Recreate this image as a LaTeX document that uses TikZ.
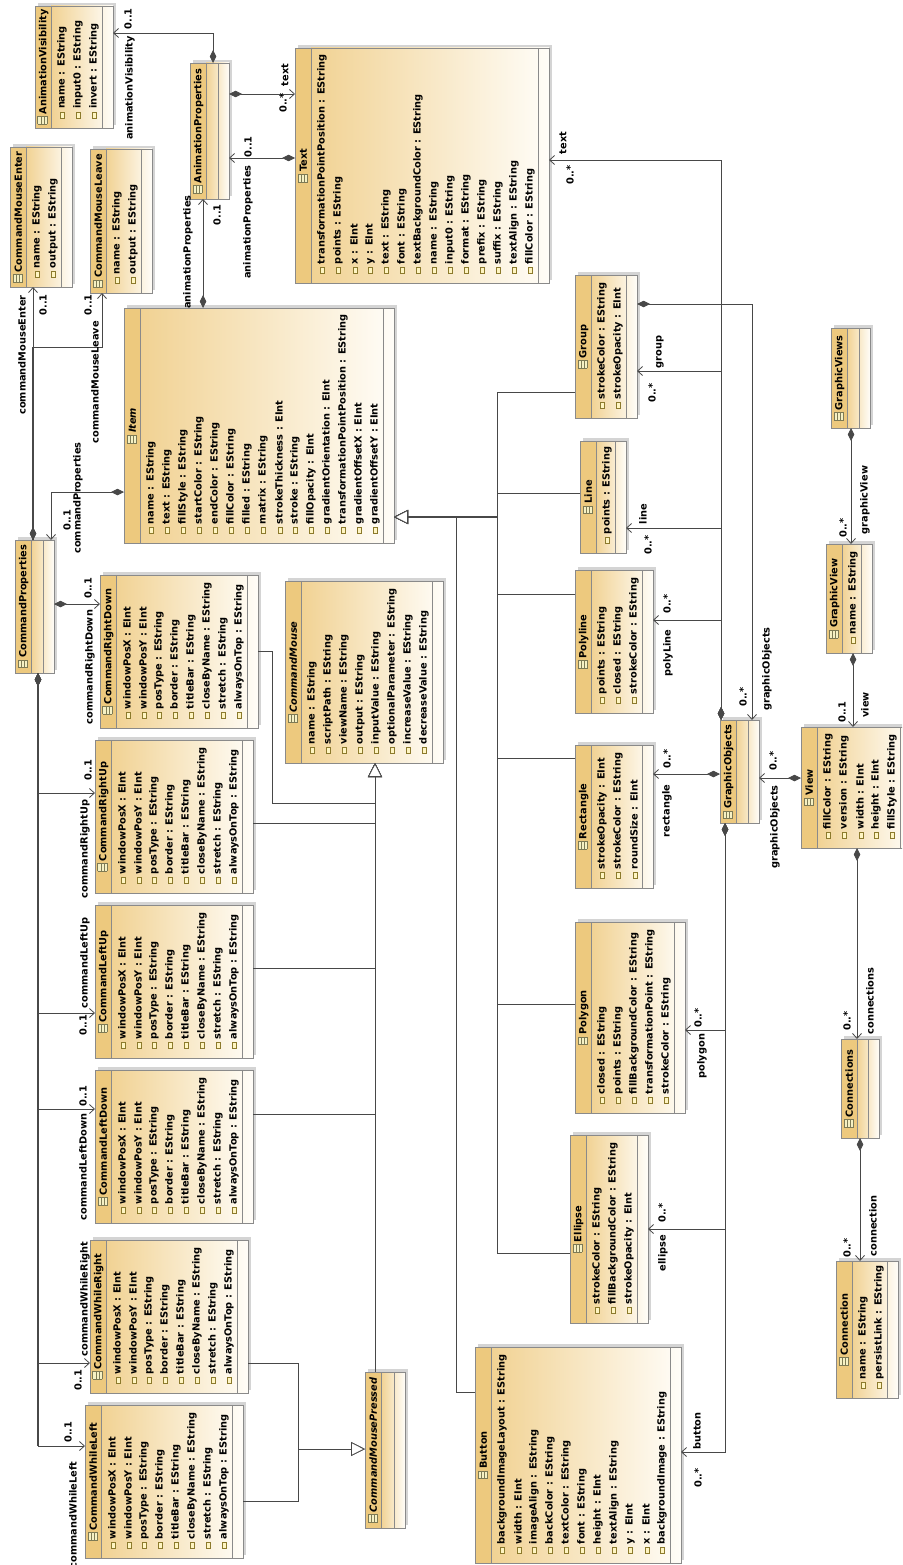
\documentclass[tikz,border=0pt]{standalone}
\usepackage{fontspec}
\setmainfont{DejaVu Sans}
\usepackage{xcolor}
\usetikzlibrary{arrows.meta}
\definecolor{headfill}{HTML}{EDC97E}
\definecolor{bodyleft}{HTML}{F1D293}
\definecolor{bodyright}{HTML}{FFFDF8}
\definecolor{boxgray}{HTML}{8A8A8A}
\definecolor{boxshadow}{HTML}{D4D4D4}
\definecolor{linkgray}{HTML}{484848}
\definecolor{attrline}{HTML}{8C7A2C}
\definecolor{attrfill}{HTML}{FFF5C2}
\definecolor{iconline}{HTML}{7D7A55}
\definecolor{iconfill}{HTML}{F6F1C4}

\newcommand{\umlfont}{\fontsize{9.8}{11}\selectfont\bfseries}
\newcommand{\attricon}{\raisebox{0.6pt}{\setlength{\fboxsep}{0pt}\setlength{\fboxrule}{0.6pt}%
  \fcolorbox{attrline}{attrfill}{\rule{0pt}{3.6pt}\hspace{5.6pt}}}}
\newcommand{\classicon}{\raisebox{-0.5pt}{\setlength{\fboxsep}{0pt}\setlength{\fboxrule}{0.6pt}%
  \fcolorbox{iconline}{iconfill}{\vbox{\color{iconline}\hrule width 7pt height 0pt\vskip 2.6pt
  \hrule width 7pt height 0.5pt\vskip 2.6pt\hrule width 7pt height 0.5pt\vskip 2.6pt}}}}

\tikzset{
  classbox/.style={draw=boxgray,line width=0.9pt,inner sep=0pt,outer sep=0pt,anchor=north west},
  boxline/.style={draw=boxgray,line width=0.9pt},
  classname/.style={rotate=90,inner sep=0pt,font=\umlfont},
  attrrow/.style={rotate=90,anchor=west,inner sep=0pt,font=\umlfont},
  lbl/.style={rotate=90,inner sep=0pt,font=\umlfont},
  assoc/.style={draw=linkgray,line width=0.8pt,
    {Diamond[length=13pt,width=6.5pt]}-{Straight Barb[length=5pt,width=9pt]}},
  gen/.style={draw=linkgray,line width=0.8pt,-{Triangle[length=14pt,width=14pt,fill=white]}},
  trunk/.style={draw=linkgray,line width=1.6pt},
}

% #1 node, #2 left, #3 top, #4 width, #5 height, #6 class name, #7 attributes
\newcommand{\eclass}[7]{%
  \fill[boxshadow] (#2+3,#3-3) rectangle (#2+#4+3,#3+#5-3);
  \fill[headfill] (#2,#3) rectangle (#2+16,#3+#5);
  \shade[left color=bodyleft,right color=bodyright] (#2+16,#3) rectangle (#2+#4,#3+#5);
  \node[classbox,minimum width=#4pt,minimum height=#5pt] (#1) at (#2,#3) {};
  \draw[boxline] ([xshift=16pt]#1.north west) -- ([xshift=16pt]#1.south west)
                 ([xshift=-11pt]#1.north east) -- ([xshift=-11pt]#1.south east);
  \node[classname] (#1-name) at ([xshift=8pt]#1.west) {\classicon\hspace{2pt}#6};
  \if\relax\detokenize{#7}\relax\else
    \edef\attrlist{#7}%
    \foreach \attrname [count=\k] in \attrlist
      \node[attrrow] (#1-a\k) at ({#2+11+16*\k},{#3+#5-9}) {\attricon\hspace{3pt}\attrname};
  \fi}

\newcommand{\cmdattrs}{windowPosX : EInt, windowPosY : EInt, posType : EString, border : EString,
  titleBar : EString, closeByName : EString, stretch : EString, alwaysOnTop : EString}

\begin{document}
\begin{tikzpicture}[x=1pt,y=-1pt]
\useasboundingbox (0,0) rectangle (902,1565);
\clip (0,0) rectangle (902,1565);
\fill[white] (0,0) rectangle (902,1565);

% classes
\eclass{animvis}{35}{6}{78}{122}{AnimationVisibility}{name : EString, input0 : EString, invert : EString}
\eclass{animprops}{190}{63}{39}{136}{AnimationProperties}{}
\eclass{cmenter}{10}{147}{62}{140}{CommandMouseEnter}{name : EString, output : EString}
\eclass{cmleave}{90}{149}{62}{144}{CommandMouseLeave}{name : EString, output : EString}
\eclass{txt}{295}{48}{254}{235}{Text}{transformationPointPosition : EString, points : EString,
  x : EInt, y : EInt, text : EString, font : EString, textBackgroundColor : EString, name : EString,
  input0 : EString, format : EString, prefix : EString, suffix : EString, textAlign : EString,
  fillColor : EString}
\eclass{item}{124}{308}{270}{235}{\textit{Item}}{name : EString, text : EString, fillStyle : EString,
  startColor : EString, endColor : EString, fillColor : EString, filled : EString, matrix : EString,
  strokeThickness : EInt, stroke : EString, fillOpacity : EInt, gradientOrientation : EInt,
  transformationPointPosition : EString, gradientOffsetX : EInt, gradientOffsetY : EInt}
\eclass{cprops}{15}{540}{39}{133}{CommandProperties}{}
\eclass{crd}{100}{575}{158}{153}{CommandRightDown}{\cmdattrs}
\eclass{cmouse}{285}{581}{158}{182}{\textit{CommandMouse}}{name : EString, scriptPath : EString,
  viewName : EString, output : EString, inputValue : EString, optionalParameter : EString,
  increaseValue : EString, decreaseValue : EString}
\eclass{cru}{95}{740}{158}{153}{CommandRightUp}{\cmdattrs}
\eclass{clu}{95}{905}{158}{153}{CommandLeftUp}{\cmdattrs}
\eclass{cld}{95}{1070}{158}{153}{CommandLeftDown}{\cmdattrs}
\eclass{cwr}{90}{1240}{158}{153}{CommandWhileRight}{\cmdattrs}
\eclass{cwl}{85}{1405}{158}{153}{CommandWhileLeft}{\cmdattrs}
\eclass{cmpressed}{365}{1372}{40}{156}{\textit{CommandMousePressed}}{}
\eclass{button}{475}{1347}{206}{216}{Button}{backgroundImageLayout : EString, width : EInt,
  imageAlign : EString, backColor : EString, textColor : EString, font : EString, height : EInt,
  textAlign : EString, y : EInt, x : EInt, backgroundImage : EString}
\eclass{ellipse}{570}{1135}{78}{188}{Ellipse}{strokeColor : EString, fillBackgroundColor : EString,
  strokeOpacity : EInt}
\eclass{polygon}{575}{922}{110}{191}{Polygon}{closed : EString, points : EString,
  fillBackgroundColor : EString, transformationPoint : EString, strokeColor : EString}
\eclass{rect}{575}{745}{78}{143}{Rectangle}{strokeOpacity : EInt, strokeColor : EString, roundSize : EInt}
\eclass{polyline}{575}{570}{78}{143}{Polyline}{points : EString, closed : EString, strokeColor : EString}
\eclass{lin}{580}{441}{46}{112}{Line}{points : EString}
\eclass{group}{575}{275}{62}{143}{Group}{strokeColor : EString, strokeOpacity : EInt}
\eclass{gviews}{831}{328}{39}{100}{GraphicViews}{}
\eclass{gview}{826}{544}{46}{109}{GraphicView}{name : EString}
\eclass{view}{801}{727}{110}{121}{View}{fillColor : EString, version : EString, width : EInt,
  height : EInt, fillStyle : EString}
\eclass{gobjects}{720}{720}{39}{103}{GraphicObjects}{}
\eclass{conns}{841}{1039}{38}{99}{Connections}{}
\eclass{conn}{836}{1261}{62}{137}{Connection}{name : EString, persistLink : EString}

% bend points
\coordinate (cptop) at ([xshift=18pt]cprops.north west);
\coordinate (cpbot) at ([xshift=23pt]cprops.south west);
\coordinate (leavebend) at (102,347);
\coordinate (genhead) at (item.east |- 0,517);
\coordinate (genjoin) at (497,517);
\coordinate (genjoinb) at (456,517);
\coordinate (cmhead) at ([xshift=90pt]cmouse.south west);
\coordinate (rdbend) at (272,803);
\coordinate (pressjoin) at (298,1449);
\coordinate (gotop) at ([xshift=1pt]gobjects.north west);
\coordinate (gobot) at ([xshift=5pt]gobjects.south west);

% animation
\draw[assoc] ([xshift=23pt]animprops.north west) |- (animvis.east |- 0,33);
\draw[assoc] (animprops.east |- 0,94) -- (txt.west |- 0,94);
\draw[assoc] (txt.west |- 0,158) -- (animprops.east |- 0,158);
\draw[assoc] ([xshift=79pt]item.north west) -- ([xshift=13pt]animprops.south west);

% command properties
\draw[trunk] (cptop) -- (cptop |- leavebend);
\draw[assoc] (cptop) -- ([xshift=23pt]cmenter.south west);
\draw[assoc] (cptop) |- (leavebend) -- (leavebend |- cmleave.south);
\draw[assoc] (item.west |- 0,492) -| ([xshift=36pt]cprops.north west);
\draw[assoc] (cprops.east |- 0,604) -- (crd.west |- 0,604);
\draw[trunk] (cpbot) -- (cpbot |- 0,1446);
\foreach \cls/\yy in {cru/793,clu/1013,cld/1109,cwr/1363,cwl/1446}
  \draw[assoc] (cpbot) |- (\cls.west |- 0,\yy);

% inheritance
\draw[trunk] ([xshift=14pt]genhead) -- (genjoin);
\foreach \cls/\yy in {group/392,lin/493,polyline/594,rect/758,polygon/1004,ellipse/1253}
  \draw[gen] (\cls.west |- 0,\yy) -| (genjoin) -- (genhead);
\draw[gen] (button.west |- 0,1392) -| (genjoinb) -- (genhead);
\draw[gen] (crd.east |- 0,651) -| (rdbend) -| (cmhead);
\foreach \cls/\yy in {cru/823,clu/968,cld/1114}
  \draw[gen] (\cls.east |- 0,\yy) -| (cmhead);
\draw[gen] (cmhead |- cmpressed.north) -- (cmhead);
\draw[gen] (cwr.east |- 0,1363) -| (pressjoin) -- (cmpressed.west |- pressjoin);
\draw[gen] (cwl.east |- 0,1501) -| (pressjoin) -- (cmpressed.west |- pressjoin);

% graphic objects
\foreach \cls/\yy in {txt/160,group/371,lin/528,polyline/620}
  \draw[assoc] (gotop) |- (\cls.east |- 0,\yy);
\draw[assoc] (gobjects.west |- 0,774) -- (rect.east |- 0,774);
\foreach \cls/\yy in {polygon/1030,ellipse/1229,button/1452}
  \draw[assoc] (gobot) |- (\cls.east |- 0,\yy);
\draw[assoc] (group.east |- 0,304) -| ([xshift=32pt]gobjects.north west);
\draw[assoc] (view.west |- 0,778) -- (gobjects.east |- 0,778);
\draw[assoc] ([xshift=20pt]gviews.south west) -- ([xshift=25pt]gview.north west);
\draw[assoc] ([xshift=27pt]gview.south west) -- ([xshift=52pt]view.north west);
\draw[assoc] ([xshift=56pt]view.south west) -- ([xshift=16pt]conns.north west);
\draw[assoc] ([xshift=19pt]conns.south west) -- ([xshift=24pt]conn.north west);

% role labels
\node[lbl] (m-animvis) at (128,19) {0..1};
\node[lbl] (r-animvis) at (130,88) {animationVisibility};
\node[lbl] (r-text1) at (285,75) {text};
\node[lbl] (m-text1) at (283,103) {0..*};
\node[lbl] (m-animp1) at (248,147) {0..1};
\node[lbl] (r-animp1) at (248,222) {animationProperties};
\node[lbl] (m-animp2) at (217,215) {0..1};
\node[lbl] (r-animp2) at (188,252) {animationProperties};
\node[lbl] (m-enter) at (43,305) {0..1};
\node[lbl] (r-enter) at (22,355) {commandMouseEnter};
\node[lbl] (m-leave) at (88,305) {0..1};
\node[lbl] (r-leave) at (95,382) {commandMouseLeave};
\node[lbl] (m-cprops) at (67,520) {0..1};
\node[lbl] (r-cprops) at (78,498) {commandProperties};
\node[lbl] (m-crd) at (88,588) {0..1};
\node[lbl] (r-crd) at (90,667) {commandRightDown};
\node[lbl] (m-cru) at (88,770) {0..1};
\node[lbl] (r-cru) at (85,849) {commandRightUp};
\node[lbl] (m-clu) at (83,1025) {0..1};
\node[lbl] (r-clu) at (85,963) {commandLeftUp};
\node[lbl] (m-cld) at (83,1096) {0..1};
\node[lbl] (r-cld) at (83,1167) {commandLeftDown};
\node[lbl] (m-cwr) at (78,1380) {0..1};
\node[lbl] (r-cwr) at (85,1299) {commandWhileRight};
\node[lbl] (m-cwl) at (68,1432) {0..1};
\node[lbl] (r-cwl) at (73,1515) {commandWhileLeft};
\node[lbl] (r-text2) at (563,143) {text};
\node[lbl] (m-text2) at (570,175) {0..*};
\node[lbl] (r-group) at (660,352) {group};
\node[lbl] (m-group) at (652,393) {0..*};
\node[lbl] (r-line) at (643,514) {line};
\node[lbl] (m-line) at (648,545) {0..*};
\node[lbl] (m-polyline) at (667,604) {0..*};
\node[lbl] (r-polyline) at (668,653) {polyLine};
\node[lbl] (m-rect) at (667,759) {0..*};
\node[lbl] (r-rect) at (667,811) {rectangle};
\node[lbl] (m-polygon) at (698,1018) {0..*};
\node[lbl] (r-polygon) at (702,1056) {polygon};
\node[lbl] (m-ellipse) at (662,1213) {0..*};
\node[lbl] (r-ellipse) at (663,1253) {ellipse};
\node[lbl] (r-button) at (697,1431) {button};
\node[lbl] (m-button) at (698,1478) {0..*};
\node[lbl] (m-gobj1) at (743,697) {0..*};
\node[lbl] (r-gobj1) at (767,669) {graphicObjects};
\node[lbl] (m-gobj2) at (773,761) {0..*};
\node[lbl] (r-gobj2) at (775,827) {graphicObjects};
\node[lbl] (m-gview) at (843,528) {0..*};
\node[lbl] (r-gview) at (865,500) {graphicView};
\node[lbl] (m-view) at (842,712) {0..1};
\node[lbl] (r-view) at (865,705) {view};
\node[lbl] (m-conns) at (847,1021) {0..*};
\node[lbl] (r-conns) at (870,1001) {connections};
\node[lbl] (m-conn) at (847,1248) {0..*};
\node[lbl] (r-conn) at (873,1226) {connection};
\end{tikzpicture}
\end{document}
